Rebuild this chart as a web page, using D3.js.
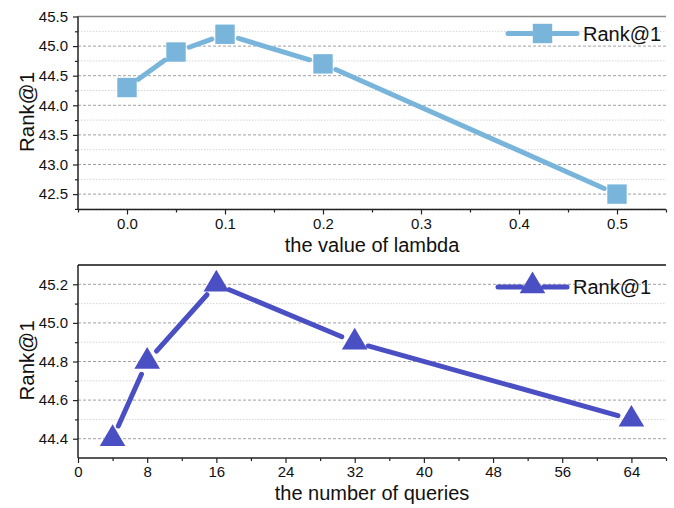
<!DOCTYPE html>
<html>
<head>
<meta charset="utf-8">
<script src="https://cdn.jsdelivr.net/npm/d3@7"></script>
<style>
  body { margin: 0; background: #fff; }
  text { font-family: "Liberation Sans", Arial, sans-serif; fill: #111; }
</style>
</head>
<body>
<script>
// top panel: lambda sweep
const lambdaValues = [0.0, 0.05, 0.1, 0.2, 0.5];
const lambdaRank = [44.3, 44.9, 45.2, 44.7, 42.5];
const lambdaTicks = [0.0, 0.1, 0.2, 0.3, 0.4, 0.5];
const lambdaYTicks = [42.5, 43.0, 43.5, 44.0, 44.5, 45.0, 45.5];

// bottom panel: number of queries
const queryValues = [4, 8, 16, 32, 64];
const queryRank = [44.4, 44.8, 45.2, 44.9, 44.5];
const queryTicks = [0, 8, 16, 24, 32, 40, 48, 56, 64];
const queryYTicks = [44.4, 44.6, 44.8, 45.0, 45.2];

const seriesName = "Rank@1";

const W = 674, H = 508;
const svg = d3.select("body").append("svg").attr("width", W).attr("height", H);

const panels = [
  {
    xs: lambdaValues, ys: lambdaRank,
    xDomain: [-0.05, 0.55], yDomain: [42.24, 45.5],
    top: 16.5, bottom: 209.5,
    xTicks: lambdaTicks, xMinorStep: 0.05, xFmt: d3.format(".1f"),
    yTicks: lambdaYTicks, yMinorStep: 0.25, yFmt: d3.format(".1f"),
    xLabel: "the value of lambda",
    color: "#79b5db", marker: "square", topColor: "#888",
    legend: { x1: 508, x2: 577, y: 33.5 }
  },
  {
    xs: queryValues, ys: queryRank,
    xDomain: [0, 68], yDomain: [44.3, 45.3],
    top: 265, bottom: 458,
    xTicks: queryTicks, xMinorStep: 4, xFmt: d3.format("d"),
    yTicks: queryYTicks, yMinorStep: 0.1, yFmt: d3.format(".1f"),
    xLabel: "the number of queries",
    color: "#4a4fc4", marker: "triangle", topColor: "#111",
    legend: { x1: 498, x2: 567, y: 287 }
  }
];

const left = 78, right = 666;

function markerPath(kind) {
  if (kind === "square") {
    return "M-9.7,-9.7H9.7V9.7H-9.7Z";
  }
  // triangle with centroid at origin
  return "M0,-14.5L12.8,7.2L-12.8,7.2Z";
}

panels.forEach(p => {
  const x = d3.scaleLinear().domain(p.xDomain).range([left, right]);
  const y = d3.scaleLinear().domain(p.yDomain).range([p.bottom, p.top]);
  const g = svg.append("g");

  // minor grid
  const yMinor = d3.range(p.yDomain[0], p.yDomain[1] + 1e-9, p.yMinorStep / 1)
    .map(v => Math.round(v / p.yMinorStep) * p.yMinorStep)
    .filter(v => v > p.yDomain[0] + 1e-6 && v < p.yDomain[1] - 1e-6);
  const yMinorOnly = yMinor.filter(v => !p.yTicks.some(t => Math.abs(t - v) < 1e-6));
  g.selectAll(".gminor").data(yMinorOnly).join("line")
    .attr("x1", left).attr("x2", right)
    .attr("y1", d => y(d)).attr("y2", d => y(d))
    .attr("stroke", "#d4d4d4").attr("stroke-width", 1)
    .attr("stroke-dasharray", "1.5,1.5");
  g.selectAll(".gmajor").data(p.yTicks.filter(v => y(v) > p.top + 1)).join("line")
    .attr("x1", left).attr("x2", right)
    .attr("y1", d => y(d)).attr("y2", d => y(d))
    .attr("stroke", "#a0a0a0").attr("stroke-width", 1)
    .attr("stroke-dasharray", "3,2");

  // top border
  g.append("line").attr("x1", left).attr("x2", right)
    .attr("y1", p.top).attr("y2", p.top)
    .attr("stroke", p.topColor).attr("stroke-width", 1.5);

  // axes
  const yAxis = g.append("g").attr("transform", `translate(${left},0)`)
    .call(d3.axisLeft(y).tickValues(p.yTicks).tickFormat(p.yFmt).tickSize(5).tickPadding(5));
  g.append("g").attr("transform", `translate(${left},0)`)
    .call(d3.axisLeft(y).tickValues(yMinorOnly).tickFormat("").tickSize(3))
    .select(".domain").remove();
  const xMinor = d3.range(p.xDomain[0], p.xDomain[1] + 1e-9, p.xMinorStep)
    .map(v => +v.toFixed(4))
    .filter(v => !p.xTicks.some(t => Math.abs(t - v) < 1e-6));
  g.append("g").attr("transform", `translate(0,${p.bottom})`)
    .call(d3.axisBottom(x).tickValues(xMinor).tickFormat("").tickSize(3))
    .select(".domain").remove();
  const xAxis = g.append("g").attr("transform", `translate(0,${p.bottom})`)
    .call(d3.axisBottom(x).tickValues(p.xTicks).tickFormat(p.xFmt).tickSize(5).tickPadding(3.5));

  g.selectAll(".domain").attr("stroke", "#222").attr("stroke-width", 1.5);
  g.selectAll(".tick line").attr("stroke", "#222").attr("stroke-width", 1.2);
  g.selectAll(".tick text").style("font-size", "15px")
    .style("font-family", "'Liberation Sans', Arial, sans-serif").attr("fill", "#111");
  yAxis.select(".domain").attr("d", `M0,${p.top}V${p.bottom}`);
  xAxis.select(".domain").attr("d", `M${left},0H${right}`);

  // axis titles
  g.append("text").attr("x", (left + right) / 2 - 0).attr("y", p.bottom + 42)
    .attr("text-anchor", "middle").style("font-size", "20px").text(p.xLabel);
  g.append("text")
    .attr("transform", `translate(34,${(p.top + p.bottom) / 2 - 1}) rotate(-90)`)
    .attr("text-anchor", "middle").style("font-size", "20.5px").text(seriesName);

  // line segments with gaps around markers
  const pts = p.xs.map((v, i) => [x(v), y(p.ys[i])]);
  const gap = 14;
  const segs = d3.pairs(pts).map(([a, b]) => {
    const dx = b[0] - a[0], dy = b[1] - a[1];
    const len = Math.hypot(dx, dy);
    const ux = dx / len, uy = dy / len;
    return [a[0] + ux * gap, a[1] + uy * gap, b[0] - ux * gap, b[1] - uy * gap];
  });
  g.selectAll(".seg").data(segs).join("line")
    .attr("x1", d => d[0]).attr("y1", d => d[1])
    .attr("x2", d => d[2]).attr("y2", d => d[3])
    .attr("stroke", p.color).attr("stroke-width", 5).attr("stroke-linecap", "round");

  g.selectAll(".mk").data(pts).join("path")
    .attr("transform", d => `translate(${d[0]},${d[1]})`)
    .attr("d", markerPath(p.marker))
    .attr("fill", p.color);

  // legend
  const L = p.legend, mid = (L.x1 + L.x2) / 2;
  g.append("line").attr("x1", L.x1).attr("x2", mid - 11)
    .attr("y1", L.y).attr("y2", L.y)
    .attr("stroke", p.color).attr("stroke-width", 5).attr("stroke-linecap", "round");
  g.append("line").attr("x1", mid + 11).attr("x2", L.x2)
    .attr("y1", L.y).attr("y2", L.y)
    .attr("stroke", p.color).attr("stroke-width", 5).attr("stroke-linecap", "round");
  g.append("path").attr("transform", `translate(${mid},${p.marker === "triangle" ? L.y - 1 : L.y})`)
    .attr("d", markerPath(p.marker)).attr("fill", p.color);
  g.append("text").attr("x", L.x2 + 6).attr("y", L.y + 7)
    .style("font-size", "20px").text(seriesName);
});
</script>
</body>
</html>
